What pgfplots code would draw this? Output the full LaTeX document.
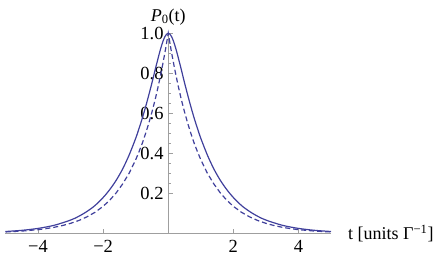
\documentclass[border=0pt]{standalone}
\usepackage{pgfplots}
\pgfplotsset{compat=1.18}
\usetikzlibrary{calc}
\usepackage{fontspec}
\setmainfont{Liberation Serif}
\definecolor{mblue}{RGB}{64,64,156}
\begin{document}
\fontsize{18}{20}\selectfont
\begin{tikzpicture}
\begin{axis}[
  scale only axis, width=325.5pt, height=200pt,
  xmin=-5, xmax=5, ymin=0, ymax=1,
  axis lines=middle,
  axis line style={-, draw=gray!75, line width=0.6pt},
  clip=false,
  xtick={-4,-2,2,4}, xticklabels={−4,−2,2,4},
  ytick={0.2,0.4,0.6,0.8,1.0}, yticklabels={0.2,0.4,0.6,0.8,1.0},
  minor x tick num=3, minor y tick num=3,
  tick align=inside,
  major tick length=4.5pt, minor tick length=2.5pt,
  tick style={draw=gray!75, line width=0.5pt},
  every tick label/.append style={font=\fontsize{18.5}{20}\selectfont, text=black},
  xticklabel style={yshift=-0.5pt},
  yticklabel style={xshift=1.5pt},
  xlabel={t [units Γ\textsuperscript{−1}]},
  ylabel={\textit{P}\textsubscript{0}(t)},
  xlabel style={at={(axis cs:5,0)}, anchor=west, xshift=11pt, font=\fontsize{18}{20}\selectfont},
  ylabel style={at={(axis cs:0,1)}, anchor=south, yshift=7pt, inner sep=1pt, rotate=0, font=\fontsize{18}{20}\selectfont},
]
\addplot[mblue, line width=1.2pt, smooth] coordinates {
(-5,0.0090) (-4.5,0.0148) (-4,0.0245) (-3.5,0.0403) (-3,0.0662) (-2.75,0.0849) (-2.5,0.109) (-2.25,0.139) (-2,0.179) (-1.8,0.218) (-1.6,0.265) (-1.4,0.322) (-1.2,0.392) (-1,0.475) (-0.9,0.523) (-0.8,0.574) (-0.7,0.630) (-0.6,0.690) (-0.5,0.753) (-0.4,0.819) (-0.3,0.883) (-0.25,0.9135) (-0.2,0.941) (-0.15,0.9652) (-0.1,0.984) (-0.05,0.9959) (0,1)
(0.05,0.9959) (0.1,0.984) (0.15,0.9652) (0.2,0.941) (0.25,0.9135) (0.3,0.883) (0.4,0.819) (0.5,0.753) (0.6,0.690) (0.7,0.630) (0.8,0.574) (0.9,0.523) (1,0.475) (1.2,0.392) (1.4,0.322) (1.6,0.265) (1.8,0.218) (2,0.179) (2.25,0.139) (2.5,0.109) (2.75,0.0849) (3,0.0662) (3.5,0.0403) (4,0.0245) (4.5,0.0148) (5,0.0090)
};
\addplot[mblue, line width=1.2pt, dash pattern=on 5pt off 3pt] coordinates {
(-5,0.0067) (-4.5,0.0111) (-4,0.0183) (-3.75,0.0235) (-3.5,0.0302) (-3.25,0.0388) (-3,0.0498) (-2.75,0.0639) (-2.5,0.0821) (-2.25,0.105) (-2,0.135) (-1.8,0.165) (-1.6,0.202) (-1.4,0.247) (-1.2,0.301) (-1,0.368) (-0.9,0.407) (-0.8,0.449) (-0.7,0.497) (-0.6,0.549) (-0.5,0.607) (-0.4,0.670) (-0.3,0.741) (-0.2,0.819) (-0.1,0.905) (0,1)
(0.1,0.905) (0.2,0.819) (0.3,0.741) (0.4,0.670) (0.5,0.607) (0.6,0.549) (0.7,0.497) (0.8,0.449) (0.9,0.407) (1,0.368) (1.2,0.301) (1.4,0.247) (1.6,0.202) (1.8,0.165) (2,0.135) (2.25,0.105) (2.5,0.0821) (2.75,0.0639) (3,0.0498) (3.25,0.0388) (3.5,0.0302) (3.75,0.0235) (4,0.0183) (4.5,0.0111) (5,0.0067)
};
\end{axis}
\pgfresetboundingbox
\path[use as bounding box] ($(current axis.south west)+(-5.5pt,-24.7pt)$) rectangle ($(current axis.north east)+(105pt,33.3pt)$);
\end{tikzpicture}
\end{document}
